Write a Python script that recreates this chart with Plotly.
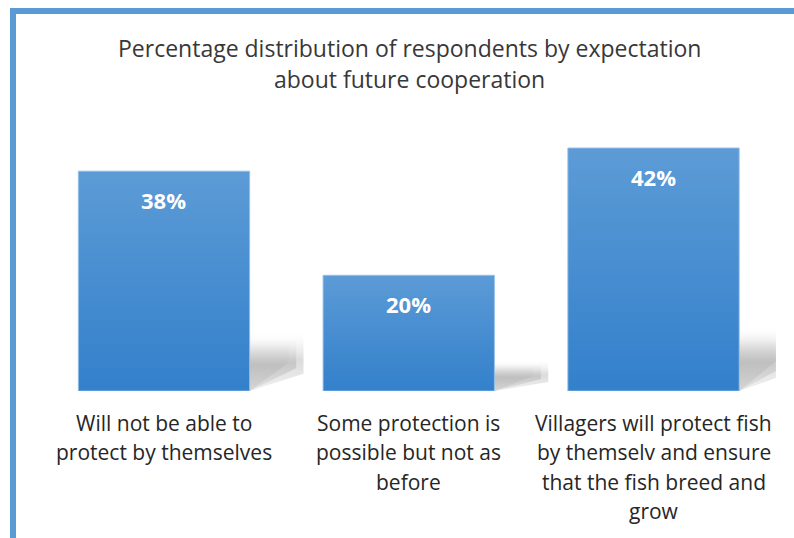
import plotly.graph_objects as go

# Survey results
categories = [
    "Will not be able to<br>protect by themselves",
    "Some protection is<br>possible but not as<br>before",
    "Villagers will protect fish<br>by themselv and ensure<br>that the fish breed and<br>grow",
]
values = [38, 20, 42]
value_labels = ["38%", "20%", "42%"]
title_lines = [
    "Percentage distribution of respondents by expectation",
    "about future cooperation",
]

W, H = 794, 538
# plot area in pixels (left, right, top, bottom)
P_L, P_R, P_T, P_B = 41.6, 775.9, 100, 391
Y_MAX = (P_B - P_T) / (243 / 42)  # axis scale so 42 spans 243 px
HALF = 0.35                       # half bar width in category units

BAR_TOP = "#5C9BD6"
BAR_BOTTOM = "#3380CB"
BORDER = "#5B9BD5"
FONT = "'Open Sans', sans-serif"


def px_x(px):
    return px / W


def px_y(py):
    return 1 - py / H


fig = go.Figure()

# page frame drawn on a full-page pixel axis pair (x2/y2)
frame_x = [10, 10, W + 2, W + 2, 16, 16, 10]
frame_y = [H + 2, 8, 8, 14, 14, H + 2, H + 2]
fig.add_trace(go.Scatter(
    x=frame_x, y=frame_y, xaxis="x2", yaxis="y2",
    mode="lines", fill="toself", fillcolor=BORDER,
    line=dict(width=0), hoverinfo="skip", showlegend=False,
))

# soft drop shadows behind each bar (layered for a blurred edge)
for i, v in enumerate(values):
    xr = i + HALF
    h = 0.26 * v
    layers = [
        (0.22, 1.00, 0.30, 0.55),
        (0.19, 0.90, 0.40, 0.70),
        (0.16, 0.82, 0.50, 0.85),
    ]
    for w, hf, cut, a in layers:
        xs = [xr, xr, xr + w, xr + w, xr]
        ys = [0, h * hf, h * hf, h * cut, 0]
        fig.add_trace(go.Scatter(
            x=xs, y=ys, mode="lines", fill="toself",
            line=dict(width=0),
            fillgradient=dict(
                type="vertical",
                colorscale=[[0, f"rgba(200,200,200,{a*0.5})"],
                            [0.55, f"rgba(190,190,190,{a})"],
                            [1, "rgba(225,225,225,0)"]],
            ),
            hoverinfo="skip", showlegend=False,
        ))

# gradient-filled bars
for i, v in enumerate(values):
    xs = [i - HALF, i - HALF, i + HALF, i + HALF, i - HALF]
    ys = [0, v, v, 0, 0]
    fig.add_trace(go.Scatter(
        x=xs, y=ys, mode="lines", fill="toself",
        line=dict(width=1, color="rgba(150,192,232,0.9)"),
        fillgradient=dict(
            type="vertical",
            colorscale=[[0, BAR_BOTTOM], [1, BAR_TOP]],
        ),
        hoverinfo="skip", showlegend=False,
    ))

annotations = []
# title, one line per annotation for even line spacing
for k, line in enumerate(title_lines):
    annotations.append(dict(
        x=px_x(409), y=px_y(48 + 31 * k),
        xref="paper", yref="paper", text=line, showarrow=False,
        xanchor="center", yanchor="middle",
        font=dict(family=FONT, size=23, color="#383838"),
    ))

# value labels inside the bar tops
for i, (v, lab) in enumerate(zip(values, value_labels)):
    annotations.append(dict(
        x=i, y=v, xref="x", yref="y", text=f"<b>{lab}</b>",
        showarrow=False, yshift=-29, yanchor="middle",
        font=dict(family=FONT, size=22, color="white"),
    ))

# category labels below the bars, one line at a time
LINE_GAP = 29.5
for i, cat in enumerate(categories):
    for k, line in enumerate(cat.split("<br>")):
        annotations.append(dict(
            x=i, y=0, xref="x", yref="y", text=line,
            showarrow=False, yanchor="middle",
            yshift=-(32 + k * LINE_GAP),
            font=dict(family=FONT, size=21, color="#262626"),
        ))

fig.update_layout(
    width=W, height=H,
    margin=dict(l=0, r=0, t=0, b=0, pad=0),
    paper_bgcolor="white", plot_bgcolor="rgba(0,0,0,0)",
    xaxis=dict(domain=[px_x(P_L), px_x(P_R)], range=[-0.5, 2.5],
               visible=False),
    yaxis=dict(domain=[px_y(P_B), px_y(P_T)], range=[0, Y_MAX],
               visible=False),
    xaxis2=dict(domain=[0, 1], range=[0, W], anchor="y2", visible=False),
    yaxis2=dict(domain=[0, 1], range=[H, 0], anchor="x2", visible=False),
    annotations=annotations,
    showlegend=False,
)

fig.write_html("out.html")
